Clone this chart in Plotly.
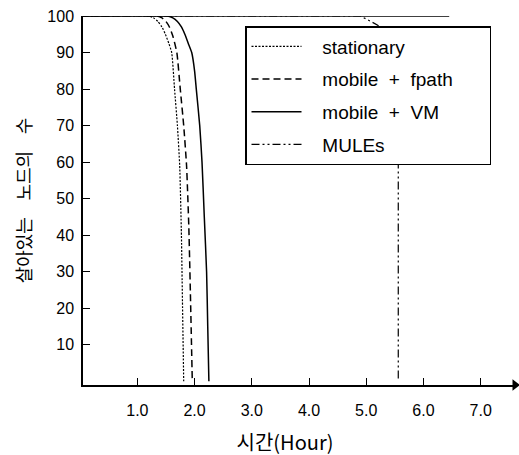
import plotly.graph_objects as go

# Data (hours vs. number of alive nodes)
stat_x = [0, 1.19, 1.28, 1.36, 1.43, 1.49, 1.55, 1.60, 1.65, 1.70, 1.74, 1.77, 1.79, 1.81]
stat_y = [100, 100, 99.5, 98.5, 97, 95, 92.5, 90, 80, 70, 59, 40, 20, 0]

fpath_x = [0, 1.35, 1.43, 1.50, 1.56, 1.62, 1.69, 1.75, 1.81, 1.86, 1.90, 1.93, 1.96]
fpath_y = [100, 100, 99.5, 98.5, 97, 94.5, 90, 80, 70, 59, 42, 22, 0]

vm_x = [0, 1.53, 1.62, 1.70, 1.77, 1.83, 1.89, 1.95, 2.00, 2.03, 2.09, 2.13, 2.17, 2.21, 2.23, 2.25]
vm_y = [100, 100, 99.5, 98.5, 97, 95, 92.5, 90, 85, 80, 70, 60, 45, 30, 15, 0]

mules_x = [0, 4.9, 5.2, 5.45, 5.55, 5.56, 5.56]
mules_y = [100, 100, 97.5, 93, 85, 70, 0]

top_x = [0, 6.45]
top_y = [100, 100]

x_ticks = [1, 2, 3, 4, 5, 6, 7]
x_ticklabels = ["1.0", "2.0", "3.0", "4.0", "5.0", "6.0", "7.0"]
y_ticks = [10, 20, 30, 40, 50, 60, 70, 80, 90, 100]

FONT = "Liberation Sans, Arial, Noto Sans CJK KR, sans-serif"
KFONT = "Noto Sans CJK KR, Liberation Sans, sans-serif"
NB = "\u00a0"
LEAD = NB * 3
WS = " \u2002\u2009"  # wider word gap as in the scanned original

L, R, T, B = 83, 4, 16, 70
W, H = 519, 455
PW, PH = W - L - R, H - T - B

fig = go.Figure()
fig.add_trace(go.Scatter(x=top_x, y=top_y, mode="lines", showlegend=False,
                         line=dict(color="black", width=1.5), hoverinfo="skip"))
fig.add_trace(go.Scatter(x=stat_x, y=stat_y, mode="lines", name=LEAD + "stationary",
                         legendgroup="a", line=dict(color="black", width=1.2, dash="2px,1.5px",
                                                    shape="spline", smoothing=0.5)))
fig.add_trace(go.Scatter(x=fpath_x, y=fpath_y, mode="lines",
                         name=LEAD + "mobile" + NB + " + " + NB + "fpath" + NB * 6,
                         legendgroup="b", line=dict(color="black", width=1.5, dash="7px,4px",
                                                    shape="spline", smoothing=0.5)))
fig.add_trace(go.Scatter(x=vm_x, y=vm_y, mode="lines", name=LEAD + "mobile" + NB + " + " + NB + "VM",
                         legendgroup="c", line=dict(color="black", width=1.5,
                                                    shape="spline", smoothing=0.5)))
fig.add_trace(go.Scatter(x=mules_x, y=mules_y, mode="lines", name=LEAD + "MULEs",
                         legendgroup="d", line=dict(color="black", width=1.2, dash="8px,3px,2px,3px,2px,3px")))
# arrow head at end of x-axis
fig.add_trace(go.Scatter(x=[7.6], y=[-1], mode="markers", showlegend=False, cliponaxis=False,
                         marker=dict(symbol="triangle-right", size=10, color="black"), hoverinfo="skip"))

fig.update_layout(
    width=W, height=H,
    margin=dict(l=L, r=R, t=T, b=B, autoexpand=False),
    paper_bgcolor="white", plot_bgcolor="white",
    font=dict(family=FONT, size=16, color="black"),
    showlegend=True,
    legend=dict(x=(245 - L) / PW, y=(H - B - 26) / PH, xanchor="left", yanchor="top",
                bgcolor="white", bordercolor="black", borderwidth=1.5,
                font=dict(size=19), traceorder="grouped", tracegroupgap=5,
                itemwidth=50),
    xaxis=dict(range=[0.05, 7.6], showgrid=False, zeroline=False, automargin=False,
               showline=True, linecolor="black", linewidth=1.5,
               ticks="inside", ticklen=7, tickcolor="black",
               tickvals=x_ticks, ticktext=x_ticklabels,
               ticklabelstandoff=10),
    yaxis=dict(range=[-1, 100], showgrid=False, zeroline=False, automargin=False,
               showline=True, linecolor="black", linewidth=1.5,
               ticks="inside", ticklen=7, tickcolor="black",
               tickvals=y_ticks, ticklabelstandoff=4,
               title=dict(text="살아있는" + WS + "노드의" + WS + "수", standoff=11,
                          font=dict(size=18, family=KFONT))),
    annotations=[dict(text="시간(Hour)", x=(285 - L) / PW, y=(H - B - 441) / PH,
                      xref="paper", yref="paper", xanchor="center", yanchor="middle",
                      width=150, height=32, align="center", valign="middle",
                      showarrow=False, font=dict(size=20, family=KFONT))],
)

fig.write_html("out.html", config={"displayModeBar": False},
               post_script="document.body.style.margin='0';document.body.style.overflow='hidden';")
